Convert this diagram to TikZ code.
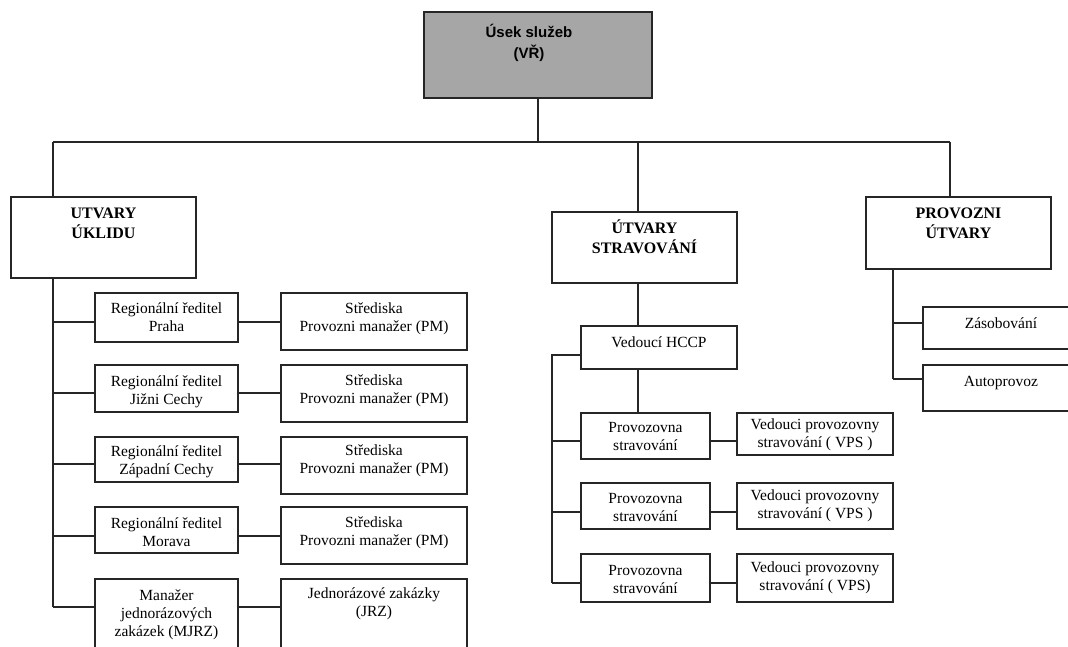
\documentclass[tikz,border=0pt]{standalone}
\usepackage{fontspec}
\setmainfont{Liberation Serif}
\newfontfamily\topsans{Liberation Sans}
\usetikzlibrary{fit}

\tikzset{
  x=1pt, y=-1pt,
  box/.style={draw=black!85, line width=1.1pt, inner sep=0pt},
  topbox/.style={box, fill=black!35},
  link/.style={draw=black!85, line width=1.1pt},
  txt/.style={inner sep=0pt, align=center, anchor=north},
  small/.style={txt, font=\fontsize{15.5}{18}\selectfont},
  head/.style={txt, font=\bfseries\fontsize{16}{20}\selectfont},
  toptxt/.style={txt, font=\topsans\bfseries\fontsize{15}{21}\selectfont},
}

\begin{document}
\begin{tikzpicture}
\useasboundingbox (0,0) rectangle (1068,646);
\fill[white] (0,0) rectangle (1068,646);
\clip (0,0) rectangle (1068,646);

% ---- top level
\node[topbox, fit={(424,12) (652,98)}] (top) {};
\node[toptxt] (topt) at (529,22.3) {\strut Úsek služeb\\(VŘ)};

% ---- three departments
\node[box, fit={(11,197) (196,278)}] (uklid) {};
\node[head] (uklidt) at (103.5,204) {\strut UTVARY\\ÚKLIDU};

\node[box, fit={(552,212) (737,283)}] (strav) {};
\node[head] (stravt) at (644.5,219) {\strut ÚTVARY\\STRAVOVÁNÍ};

\node[box, fit={(866,197) (1051,269)}] (prov) {};
\node[head] (provt) at (958.5,204) {\strut PROVOZNI\\ÚTVARY};

% ---- cleaning: regional directors and centres
\node[box, fit={(95,293) (238,342)}] (r1) {};
\node[small] (r1t) at (166.5,300.4) {\strut Regionální ředitel\\Praha};
\node[box, fit={(281,293) (467,350)}] (s1) {};
\node[small] (s1t) at (374,300.4) {\strut Střediska\\Provozni manažer (PM)};

\node[box, fit={(95,365) (238,412)}] (r2) {};
\node[small] (r2t) at (166.5,373.4) {\strut Regionální ředitel\\Jižni Cechy};
\node[box, fit={(281,365) (467,422)}] (s2) {};
\node[small] (s2t) at (374,372.4) {\strut Střediska\\Provozni manažer (PM)};

\node[box, fit={(95,437) (238,482)}] (r3) {};
\node[small] (r3t) at (166.5,444) {\strut Regionální ředitel\\Západní Cechy};
\node[box, fit={(281,437) (467,494)}] (s3) {};
\node[small] (s3t) at (374,442.4) {\strut Střediska\\Provozni manažer (PM)};

\node[box, fit={(95,507) (238,553)}] (r4) {};
\node[small] (r4t) at (166.5,515.4) {\strut Regionální ředitel\\Morava};
\node[box, fit={(281,507) (467,564)}] (s4) {};
\node[small] (s4t) at (374,514.4) {\strut Střediska\\Provozni manažer (PM)};

\node[box, fit={(95,579) (238,670)}] (r5) {};
\node[small] (r5t) at (166.5,587.4) {\strut Manažer\\jednorázových\\zakázek (MJRZ)};
\node[box, fit={(281,579) (467,670)}] (s5) {};
\node[small] (s5t) at (374,585.4) {\strut Jednorázové zakázky\\(JRZ)};

% ---- catering
\node[box, fit={(581,326) (737,369)}] (hccp) {};
\node[small] (hccpt) at (659,334.4) {\strut Vedoucí HCCP};

\node[box, fit={(581,413) (710,459)}] (p1) {};
\node[small] (p1t) at (645.5,420) {\strut Provozovna\\stravování};
\node[box, fit={(737,413) (893,455)}] (v1) {};
\node[small] (v1t) at (815,416.4) {\strut Vedouci provozovny\\stravování ( VPS )};

\node[box, fit={(581,483) (710,529)}] (p2) {};
\node[small] (p2t) at (645.5,490.4) {\strut Provozovna\\stravování};
\node[box, fit={(737,483) (893,529)}] (v2) {};
\node[small] (v2t) at (815,487.4) {\strut Vedouci provozovny\\stravování ( VPS )};

\node[box, fit={(581,554) (710,602)}] (p3) {};
\node[small] (p3t) at (645.5,562.4) {\strut Provozovna\\stravování};
\node[box, fit={(737,554) (893,602)}] (v3) {};
\node[small] (v3t) at (815,559.4) {\strut Vedouci provozovny\\stravování ( VPS)};

% ---- operations
\node[box, fit={(923,307) (1079,349)}] (zas) {};
\node[small] (zast) at (1001,315.4) {\strut Zásobování};
\node[box, fit={(923,365) (1079,411)}] (auto) {};
\node[small] (autot) at (1001,373.4) {\strut Autoprovoz};

% ---- main bus
\coordinate (busL) at (53,142);
\coordinate (busM) at (638,142);
\coordinate (busR) at (950,142);
\draw[link] (top.south) -- (top.south |- busL);
\draw[link] (busL) -- (busR);
\draw[link] (busL) -- (busL |- uklid.north);
\draw[link] (busM) -- (busM |- strav.north);
\draw[link] (busR) -- (busR |- prov.north);

% ---- cleaning spine
\coordinate (j1) at (53,322);
\coordinate (j2) at (53,393);
\coordinate (j3) at (53,464);
\coordinate (j4) at (53,536);
\coordinate (j5) at (53,607);
\draw[link] (j1 |- uklid.south) -- (j5);
\foreach \i in {1,...,5}{
  \draw[link] (j\i) -- (j\i -| r\i.west);
  \draw[link] (j\i -| r\i.east) -- (j\i -| s\i.west);
}

% ---- catering spine
\coordinate (c0) at (638,300);
\coordinate (h0) at (552,355);
\coordinate (k1) at (552,441);
\coordinate (k2) at (552,512);
\coordinate (k3) at (552,583);
\draw[link] (c0 |- strav.south) -- (c0 |- hccp.north);
\draw[link] (c0 |- hccp.south) -- (c0 |- p1.north);
\draw[link] (h0 -| hccp.west) -- (h0) -- (k3);
\foreach \i in {1,2,3}{
  \draw[link] (k\i) -- (k\i -| p\i.west);
  \draw[link] (k\i -| p\i.east) -- (k\i -| v\i.west);
}

% ---- operations spine
\coordinate (o1) at (893,323);
\coordinate (o2) at (893,379);
\draw[link] (o1 |- prov.south) -- (o2);
\draw[link] (o1) -- (o1 -| zas.west);
\draw[link] (o2) -- (o2 -| auto.west);
\end{tikzpicture}
\end{document}
